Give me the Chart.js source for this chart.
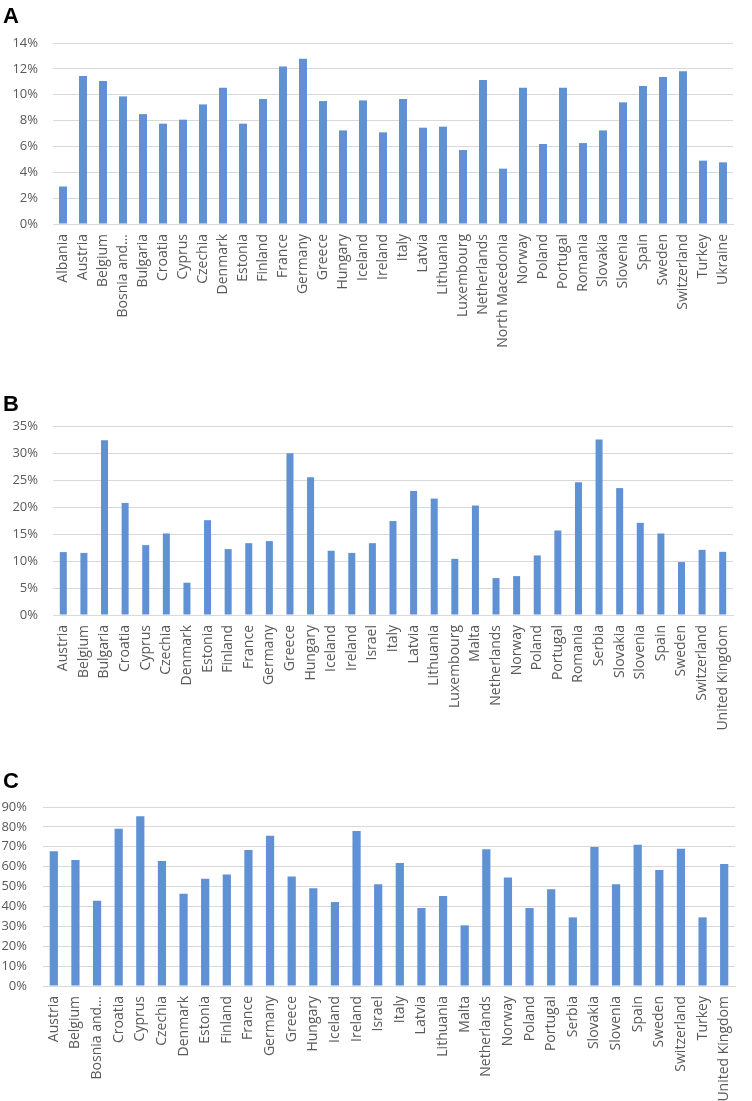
<!DOCTYPE html>
<html>
<head>
<meta charset="utf-8">
<script src="https://cdn.jsdelivr.net/npm/chart.js@4.4.1/dist/chart.umd.min.js"></script>
<style>
  html, body { margin: 0; padding: 0; background: #fff; }
  body { width: 752px; height: 1101px; position: relative; overflow: hidden; }
  .panel { position: absolute; left: 0; width: 752px; }
  .lbl { position: absolute; left: 3px; font: bold 22px "Liberation Sans", Arial, sans-serif; color: #000; }
</style>
</head>
<body>
<div class="panel" style="top:0px;height:370px"><canvas id="cA"></canvas></div>
<div class="panel" style="top:380px;height:365px"><canvas id="cB"></canvas></div>
<div class="panel" style="top:760px;height:341px"><canvas id="cC"></canvas></div>
<div class="lbl" style="top:3px">A</div>
<div class="lbl" style="top:391px">B</div>
<div class="lbl" style="top:768px">C</div>
<script>
const categoriesA = ["Albania","Austria","Belgium","Bosnia and…","Bulgaria","Croatia","Cyprus","Czechia","Denmark","Estonia","Finland","France","Germany","Greece","Hungary","Iceland","Ireland","Italy","Latvia","Lithuania","Luxembourg","Netherlands","North Macedonia","Norway","Poland","Portugal","Romania","Slovakia","Slovenia","Spain","Sweden","Switzerland","Turkey","Ukraine"];
const valuesA = [2.9,11.45,11.06,9.87,8.5,7.76,8.07,9.25,10.54,7.76,9.67,12.19,12.79,9.51,7.24,9.56,7.09,9.67,7.45,7.53,5.72,11.14,4.28,10.54,6.19,10.54,6.26,7.24,9.41,10.67,11.37,11.81,4.9,4.77];
const ticksA = [0,2,4,6,8,10,12,14];

const categoriesB = ["Austria","Belgium","Bulgaria","Croatia","Cyprus","Czechia","Denmark","Estonia","Finland","France","Germany","Greece","Hungary","Iceland","Ireland","Israel","Italy","Latvia","Lithuania","Luxembourg","Malta","Netherlands","Norway","Poland","Portugal","Romania","Serbia","Slovakia","Slovenia","Spain","Sweden","Switzerland","United Kingdom"];
const valuesB = [11.65,11.5,32.35,20.76,12.94,15.1,5.98,17.56,12.2,13.3,13.68,29.94,25.5,11.9,11.5,13.3,17.4,22.98,21.56,10.4,20.27,6.84,7.2,11.03,15.65,24.58,32.5,23.5,17.07,15.1,9.8,12.07,11.7];
const ticksB = [0,5,10,15,20,25,30,35];

const categoriesC = ["Austria","Belgium","Bosnia and…","Croatia","Cyprus","Czechia","Denmark","Estonia","Finland","France","Germany","Greece","Hungary","Iceland","Ireland","Israel","Italy","Latvia","Lithuania","Malta","Netherlands","Norway","Poland","Portugal","Serbia","Slovakia","Slovenia","Spain","Sweden","Switzerland","Turkey","United Kingdom"];
const valuesC = [67.7,63.3,42.9,79.1,85.3,62.8,46.4,53.9,56,68.4,75.6,55.1,49.1,42.2,77.9,51.1,61.8,39.2,45.2,30.5,68.7,54.5,39.2,48.6,34.5,69.9,51.1,71,58.3,69,34.5,61.3];
const ticksC = [0,10,20,30,40,50,60,70,80,90];

const BAR = '#5f91d4';
const GRID = '#d9d9d9';
const TXT = '#595959';
const FONT = '"Open Sans", "Noto Sans", sans-serif';

function makeChart(id, cats, vals, ticks, opt) {
  const max = ticks[ticks.length - 1];
  const step = ticks[1] - ticks[0];
  return new Chart(document.getElementById(id), {
    type: 'bar',
    data: { labels: cats, datasets: [{ data: vals, backgroundColor: BAR, borderWidth: 0,
      categoryPercentage: 1, barPercentage: opt.barPct }] },
    options: {
      responsive: true, maintainAspectRatio: false, animation: false,
      plugins: { legend: { display: false }, tooltip: { enabled: false } },
      layout: { padding: { top: opt.top, left: 0, right: opt.right, bottom: 0 } },
      scales: {
        x: {
          grid: { display: false },
          border: { display: true, color: GRID, width: 1 },
          ticks: { color: TXT, font: { family: FONT, size: 14 }, minRotation: 90, maxRotation: 90, autoSkip: false, padding: 2 },
          afterFit: s => { s.height = opt.xh; }
        },
        y: {
          min: 0, max: max,
          grid: { color: GRID, drawTicks: false },
          border: { display: false },
          ticks: { stepSize: step, color: TXT, font: { family: FONT, size: 13 }, padding: opt.tpad,
            callback: v => v + '%' },
          afterFit: s => { s.width = opt.yw; }
        }
      }
    }
  });
}

makeChart('cA', categoriesA, valuesA, ticksA, { top: 43, right: 19, xh: 146, yw: 53, barPct: 0.4, tpad: 15 });
makeChart('cB', categoriesB, valuesB, ticksB, { top: 46, right: 19, xh: 130, yw: 53, barPct: 0.34, tpad: 15 });
makeChart('cC', categoriesC, valuesC, ticksC, { top: 47, right: 17, xh: 115, yw: 43, barPct: 0.38, tpad: 16 });
</script>
</body>
</html>
